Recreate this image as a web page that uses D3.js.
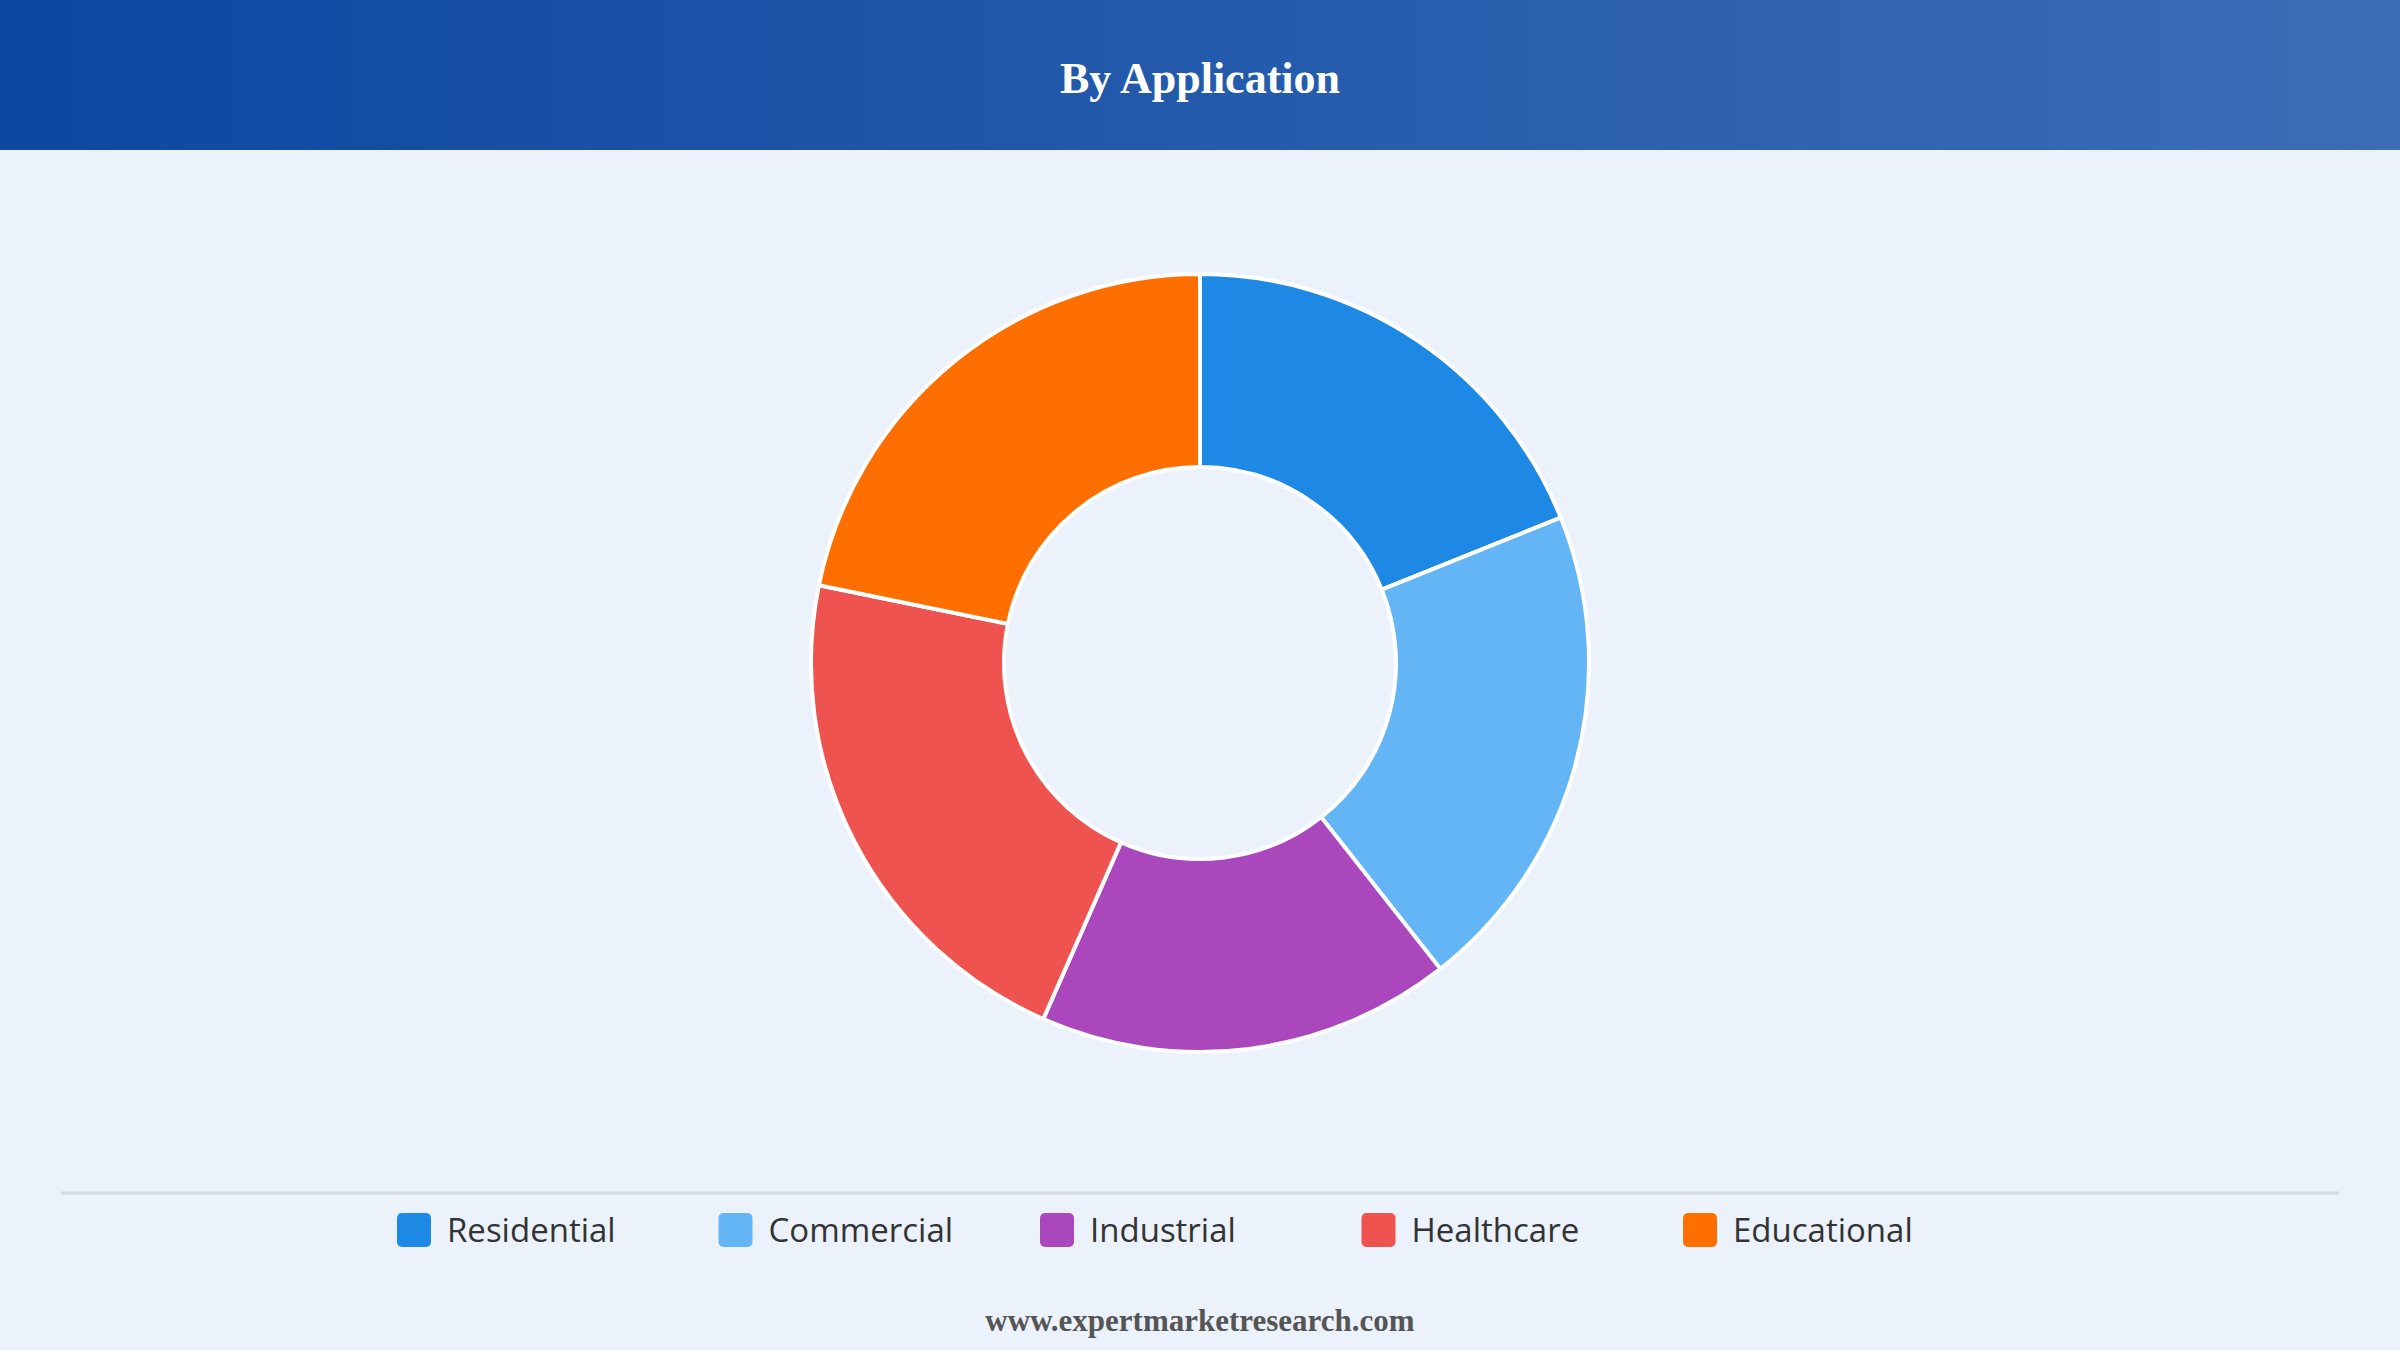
<!DOCTYPE html>
<html><head><meta charset="utf-8">
<script src="https://cdn.jsdelivr.net/npm/d3@7"></script>
<style>html,body{margin:0;padding:0;background:#EBF2FB;}</style>
</head><body>
<svg id="c" width="2400" height="1350"></svg>
<script>
const categories = ["Residential","Commercial","Industrial","Healthcare","Educational"];
const values = [18.9, 20.5, 17.2, 21.6, 21.8];
const colors = ["#1E88E5","#64B5F6","#AB47BC","#EF5350","#FF6F00"];

const svg = d3.select("#c");
svg.append("rect").attr("width",2400).attr("height",1350).attr("fill","#EBF2FB");
const defs = svg.append("defs");
const g = defs.append("linearGradient").attr("id","hg");
g.append("stop").attr("offset","0%").attr("stop-color","#0D47A1");
g.append("stop").attr("offset","100%").attr("stop-color","#3B6DB6");
svg.append("rect").attr("width",2400).attr("height",150).attr("fill","url(#hg)");
svg.append("text").attr("x",1200).attr("y",93).attr("text-anchor","middle")
  .attr("font-family","Liberation Serif, serif").attr("font-weight","bold")
  .attr("font-size",44).attr("fill","#fff").text("By Application");

const pie = d3.pie().sort(null).value(d=>d)(values);
const arc = d3.arc().innerRadius(196).outerRadius(389);
svg.append("g").attr("transform","translate(1200,663)")
  .selectAll("path").data(pie).join("path")
  .attr("d",arc).attr("fill",(d,i)=>colors[i])
  .attr("stroke","#fff").attr("stroke-width",4);

svg.append("line").attr("x1",61).attr("x2",2339).attr("y1",1193).attr("y2",1193)
  .attr("stroke","#d6d9de").attr("stroke-width",3);
const x = d3.scalePoint().domain(categories).range([397,1683]);
const lg = svg.append("g").selectAll("g").data(categories).join("g")
  .attr("transform",d=>`translate(${x(d)},1230)`);
lg.append("rect").attr("x",0).attr("y",-17).attr("width",34).attr("height",34).attr("rx",5)
  .attr("fill",(d,i)=>colors[i]);
lg.append("text").attr("x",50).attr("y",12).attr("font-family","Open Sans, sans-serif")
  .attr("font-size",33).attr("fill","#333").text(d=>d);

svg.append("text").attr("x",1200).attr("y",1331).attr("text-anchor","middle")
  .attr("font-family","Liberation Serif, serif").attr("font-weight","bold")
  .attr("font-size",31).attr("fill","#555").text("www.expertmarketresearch.com");
</script>
</body></html>
